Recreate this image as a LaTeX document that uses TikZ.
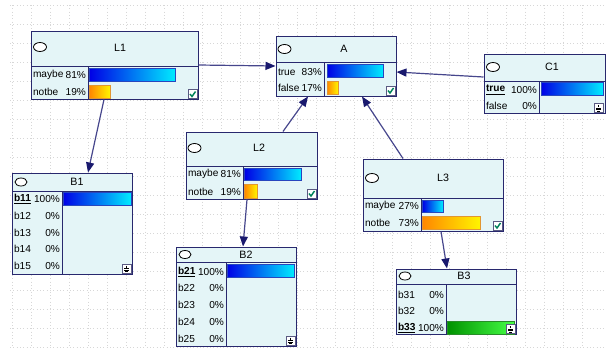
\documentclass[tikz,border=0pt]{standalone}
\usepackage{fontspec}
\setmainfont{Liberation Sans}
\usetikzlibrary{arrows.meta,fit,calc}

\definecolor{winline}{RGB}{40,40,110}
\definecolor{winfill}{RGB}{228,245,247}
\definecolor{linkline}{RGB}{70,70,140}
\definecolor{linkhead}{RGB}{25,25,110}
\definecolor{gridcol}{RGB}{215,215,215}

\tikzset{every picture/.style={line width=0.75pt}}
\tikzset{
  win/.style={draw=winline, fill=winfill, inner sep=0pt},
  lbl/.style={inner sep=0pt, font=\fontsize{7.6}{9}\selectfont},
  ttl/.style={inner sep=0pt, font=\fontsize{8}{9}\selectfont},
  bluebar/.style={draw={rgb,255:red,40;green,70;blue,190}, line width=0.6pt, left color={rgb,255:red,0;green,0;blue,230}, right color={rgb,255:red,0;green,235;blue,255}},
  orangebar/.style={draw={rgb,255:red,225;green,150;blue,50}, line width=0.6pt, left color={rgb,255:red,255;green,135;blue,0}, right color={rgb,255:red,255;green,245;blue,0}},
  greenbar/.style={draw={rgb,255:red,40;green,140;blue,40}, line width=0.6pt, left color={rgb,255:red,0;green,145;blue,0}, right color={rgb,255:red,70;green,255;blue,70}},
  link/.style={draw=linkline, line width=0.9pt, -{Triangle[length=7.5pt,width=6pt,color=linkhead]}},
  icon/.style={draw={rgb,255:red,90;green,90;blue,130}, fill=white, line width=0.5pt},
}

% one state line: name, x left, x right, y, label, percent
\newcommand{\staterow}[6]{%
  \node[lbl,anchor=west] (#1) at (#2,#4) {#5};
  \node[lbl,anchor=east] (#1p) at (#3,#4) {#6};}
\newcommand{\checkicon}[2]{%
  \draw[icon] (#1,#2) rectangle ++(9,9);
  \draw[draw={rgb,255:red,0;green,130;blue,90}, line width=1.1pt] (#1+2,#2+4.5) -- (#1+4,#2+7) -- (#1+7.5,#2+2);}
\newcommand{\foldicon}[2]{%
  \draw[icon] (#1,#2) rectangle ++(9,9);
  \draw[line width=0.5pt] (#1+4.5,#2+1.5) -- (#1+4.5,#2+3.5) (#1+2,#2+4.5) -- (#1+7,#2+4.5) (#1+2,#2+6) -- (#1+7,#2+6) (#1+3,#2+7.5) -- (#1+6,#2+7.5);}

\begin{document}
\begin{tikzpicture}[x=0.75pt,y=0.75pt,yscale=-1,xscale=1]
\useasboundingbox (0,0) rectangle (606,347);

%Grid
\foreach \gx in {12,31,...,600} \draw[gridcol, dotted, line width=0.5pt] (\gx,5) -- (\gx,347);
\foreach \gy in {5,24,...,347} \draw[gridcol, dotted, line width=0.5pt] (10,\gy) -- (606,\gy);

%Window L1
\node[win, fit={(31,31) (198,99)}] (L1) {};
\draw[winline] (31,66) -- (198,66) (88,66) -- (88,99);
\draw[fill=white, line width=0.6pt] (40,47) ellipse (6.5 and 4.5);
\node[ttl] (L1t) at (120,48) {L1};
\staterow{L1a}{32.5}{86.5}{75}{maybe}{81\%}
\staterow{L1b}{32.5}{86.5}{92}{notbe}{19\%}
\path[bluebar] (89.5,68) rectangle (175,81);
\path[orangebar] (89.5,85) rectangle (110,98);
\checkicon{188}{89.5}

%Window A
\node[win, fit={(276,36) (396,96)}] (A) {};
\draw[winline] (276,62) -- (396,62) (324,62) -- (324,96);
\draw[fill=white, line width=0.6pt] (284.5,49) ellipse (6.5 and 4.5);
\node[ttl] (At) at (344,49) {A};
\staterow{Aa}{277.5}{322.5}{72}{true}{83\%}
\staterow{Ab}{277.5}{322.5}{88}{false}{17\%}
\path[bluebar] (327,64) rectangle (383,77);
\path[orangebar] (327,81) rectangle (338,94);
\checkicon{386}{86}

%Window C1
\node[win, fit={(484,54) (605,113)}] (C1) {};
\draw[winline] (484,81) -- (605,81) (539,81) -- (539,113);
\draw[fill=white, line width=0.6pt] (493,67) ellipse (6.5 and 4.5);
\node[ttl] (C1t) at (552,67) {C1};
\staterow{C1a}{485.5}{537.5}{90}{\underline{\textbf{true}}}{100\%}
\staterow{C1b}{485.5}{537.5}{106}{false}{0\%}
\path[bluebar] (541,82) rectangle (603,95);
\foldicon{594}{103.5}

%Window L2
\node[win, fit={(186,132) (317,199)}] (L2) {};
\draw[winline] (186,166) -- (317,166) (243,166) -- (243,199);
\draw[fill=white, line width=0.6pt] (194.5,148) ellipse (6.5 and 4.5);
\node[ttl] (L2t) at (259,148) {L2};
\staterow{L2a}{187.5}{241.5}{174}{maybe}{81\%}
\staterow{L2b}{187.5}{241.5}{192}{notbe}{19\%}
\path[bluebar] (244.5,168) rectangle (301,180);
\path[orangebar] (244.5,184) rectangle (257,198);
\checkicon{307}{189}

%Window L3
\node[win, fit={(363,159) (503,231)}] (L3) {};
\draw[winline] (363,198) -- (503,198) (421,198) -- (421,231);
\draw[fill=white, line width=0.6pt] (372,178) ellipse (6.5 and 4.5);
\node[ttl] (L3t) at (443,178) {L3};
\staterow{L3a}{364.5}{419.5}{206}{maybe}{27\%}
\staterow{L3b}{364.5}{419.5}{223}{notbe}{73\%}
\path[bluebar] (422.5,200) rectangle (443,212);
\path[orangebar] (422.5,216) rectangle (480,229);
\checkicon{493}{221}

%Window B1
\node[win, fit={(12,173) (132,274)}] (B1) {};
\draw[winline] (12,191) -- (132,191) (62,191) -- (62,274);
\draw[fill=white, line width=0.6pt] (21,182) ellipse (6 and 4);
\node[ttl] (B1t) at (77,182) {B1};
\staterow{B1a}{13.5}{60.5}{199}{\underline{\textbf{b11}}}{100\%}
\staterow{B1b}{13.5}{60.5}{216}{b12}{0\%}
\staterow{B1c}{13.5}{60.5}{233}{b13}{0\%}
\staterow{B1d}{13.5}{60.5}{249}{b14}{0\%}
\staterow{B1e}{13.5}{60.5}{266}{b15}{0\%}
\path[bluebar] (63,192) rectangle (131,205);
\foldicon{122}{264}

%Window B2
\node[win, fit={(176,247) (296,346)}] (B2) {};
\draw[winline] (176,262) -- (296,262) (226,262) -- (226,346);
\draw[fill=white, line width=0.6pt] (185,254.5) ellipse (6 and 4);
\node[ttl] (B2t) at (246,254.5) {B2};
\staterow{B2a}{177.5}{224.5}{272}{\underline{\textbf{b21}}}{100\%}
\staterow{B2b}{177.5}{224.5}{288}{b22}{0\%}
\staterow{B2c}{177.5}{224.5}{305}{b23}{0\%}
\staterow{B2d}{177.5}{224.5}{322}{b24}{0\%}
\staterow{B2e}{177.5}{224.5}{339}{b25}{0\%}
\path[bluebar] (227,264) rectangle (294,277);
\foldicon{286}{336}

%Window B3
\node[win, fit={(396,269) (516,334)}] (B3) {};
\draw[winline] (396,284) -- (516,284) (446,284) -- (446,334);
\draw[fill=white, line width=0.6pt] (405,276) ellipse (6 and 4);
\node[ttl] (B3t) at (464,276) {B3};
\staterow{B3a}{397.5}{444.5}{295}{b31}{0\%}
\staterow{B3b}{397.5}{444.5}{311}{b32}{0\%}
\staterow{B3c}{397.5}{444.5}{328}{\underline{\textbf{b33}}}{100\%}
\path[greenbar] (447,321) rectangle (514,334);
\foldicon{506}{324.5}

%Links
\draw[link] (L1.east) -- (A.west);
\draw[link] ($(C1.west)+(0,-6.5)$) -- ($(A.east)+(0,6)$);
\draw[link] ($(L2.north)+(31.5,0)$) -- ($(A.south)+(-28,0)$);
\draw[link] ($(L3.north)+(-30,0)$) -- ($(A.south)+(26,0)$);
\draw[link] ($(L1.south)+(-10.5,0)$) -- ($(B1.north)+(16,0)$);
\draw[link] ($(L2.south)+(-4.5,0)$) -- ($(B2.north)+(7,0)$);
\draw[link] ($(L3.south)+(8,0)$) -- ($(B3.north)+(-9,0)$);

\end{tikzpicture}
\end{document}
